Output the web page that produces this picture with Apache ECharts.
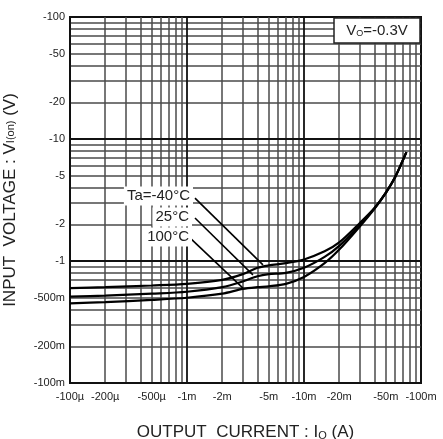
<!DOCTYPE html>
<html><head><meta charset="utf-8">
<script src="https://cdn.jsdelivr.net/npm/echarts@6/dist/echarts.min.js"></script>
<style>html,body{margin:0;padding:0;background:#fff}#c{width:443px;height:439px}</style>
</head><body><div id="c"></div>
<script>
// Output current magnitude (A); axis shows negative values
const currentA = [0.0001, 0.0002, 0.0005, 0.001, 0.002, 0.003, 0.004, 0.005, 0.007, 0.01, 0.015, 0.02, 0.03, 0.04, 0.05, 0.06, 0.075];
// Input voltage magnitude (V)
const vinM40 = [0.60, 0.61, 0.63, 0.65, 0.70, 0.78, 0.88, 0.92, 0.96, 1.03, 1.20, 1.42, 2.05, 2.72, 3.62, 4.85, 7.8];
const vin25  = [0.51, 0.52, 0.54, 0.56, 0.61, 0.68, 0.75, 0.78, 0.80, 0.88, 1.08, 1.33, 1.98, 2.70, 3.62, 4.85, 7.8];
const vin100 = [0.45, 0.46, 0.48, 0.50, 0.54, 0.59, 0.61, 0.62, 0.65, 0.74, 0.96, 1.24, 1.92, 2.68, 3.62, 4.85, 7.8];

const seriesNames = ['Ta=-40°C', '25°C', '100°C'];
// leader lines from labels to curves [I, V]
const leaderM40 = [[1.17e-3, 3.28], [4.46e-3, 0.93]];
const leader25  = [[1.17e-3, 2.25], [3.66e-3, 0.77]];
const leader100 = [[1.06e-3, 1.545], [3.01e-3, 0.60]];

const xTickValues = [1e-4, 2e-4, 5e-4, 1e-3, 2e-3, 5e-3, 1e-2, 2e-2, 5e-2, 1e-1];
const xTickLabels = ['-100µ', '-200µ', '-500µ', '-1m', '-2m', '-5m', '-10m', '-20m', '-50m', '-100m'];
const yTickValues = [0.1, 0.2, 0.5, 1, 2, 5, 10, 20, 50, 100];
const yTickLabels = ['-100m', '-200m', '-500m', '-1', '-2', '-5', '-10', '-20', '-50', '-100'];

const xMin = 1e-4, xMax = 0.1, yMin = 0.1, yMax = 100;
const xDecades = [1e-4, 1e-3, 1e-2];
const yDecades = [0.1, 1, 10];
const gridMult = [1, 2, 3, 4, 5, 6, 7, 8, 9];

function pickLabel(v, vals, labels) {
  let best = 0, bd = Infinity;
  vals.forEach((t, i) => { const d = Math.abs(Math.log10(v) - Math.log10(t)); if (d < bd) { bd = d; best = i; } });
  return labels[best];
}

const majorGrid = [], minorGrid = [];
xDecades.forEach(d => gridMult.forEach(m => (m === 1 ? majorGrid : minorGrid).push({ coords: [[d * m, yMin], [d * m, yMax]] })));
yDecades.forEach(d => gridMult.forEach(m => (m === 1 ? majorGrid : minorGrid).push({ coords: [[xMin, d * m], [xMax, d * m]] })));

function pairs(xs, ys) { return xs.map((x, i) => [x, ys[i]]); }

const FONT = 'Liberation Sans';
const curveStyle = { color: '#000', width: 2.2 };
const labelStyle = { fontSize: 15, fill: '#222', fontFamily: FONT, backgroundColor: '#fff', padding: [2, 3], align: 'right', verticalAlign: 'middle' };
const chart = echarts.init(document.getElementById('c'), null, { renderer: 'canvas' });
chart.setOption({
  animation: false,
  backgroundColor: '#fff',
  grid: { left: 70, right: 22, top: 17, bottom: 56, containLabel: false, outerBoundsMode: 'none', show: true, borderColor: '#111', borderWidth: 2, backgroundColor: '#fff' },
  xAxis: {
    type: 'log', logBase: 10, min: xMin, max: xMax,
    axisLine: { show: false }, axisTick: { show: false }, splitLine: { show: false },
    axisLabel: {
      customValues: xTickValues, margin: 8, fontSize: 11, color: '#222', fontFamily: FONT,
      formatter: v => pickLabel(v, xTickValues, xTickLabels)
    },
    name: 'OUTPUT  CURRENT : I{s|O} (A)', nameLocation: 'middle', nameGap: 40,
    nameTextStyle: { fontSize: 17, color: '#222', fontFamily: FONT, rich: { s: { fontSize: 11, verticalAlign: 'bottom', padding: [7, 0, 0, 0] } } }
  },
  yAxis: {
    type: 'log', logBase: 10, min: yMin, max: yMax,
    axisLine: { show: false }, axisTick: { show: false }, splitLine: { show: false },
    axisLabel: {
      customValues: yTickValues, margin: 5, fontSize: 11, color: '#222', fontFamily: FONT,
      formatter: v => pickLabel(v, yTickValues, yTickLabels)
    },
    name: 'INPUT  VOLTAGE : V{s|I(on)} (V)', nameLocation: 'middle', nameGap: 51, nameRotate: 90,
    nameTextStyle: { fontSize: 17, color: '#222', fontFamily: FONT, rich: { s: { fontSize: 11 } } }
  },
  series: [
    { type: 'lines', coordinateSystem: 'cartesian2d', data: minorGrid, silent: true, z: 1, lineStyle: { color: '#4a4a4a', width: 1.5, opacity: 1 } },
    { type: 'lines', coordinateSystem: 'cartesian2d', data: majorGrid, silent: true, z: 2, lineStyle: { color: '#111', width: 1.8, opacity: 1 } },
    { name: seriesNames[0], type: 'line', data: pairs(currentA, vinM40), smooth: 0.3, symbol: 'none', lineStyle: curveStyle, z: 5 },
    { name: seriesNames[1], type: 'line', data: pairs(currentA, vin25), smooth: 0.3, symbol: 'none', lineStyle: curveStyle, z: 5 },
    { name: seriesNames[2], type: 'line', data: pairs(currentA, vin100), smooth: 0.3, symbol: 'none', lineStyle: curveStyle, z: 5 },
    { type: 'line', data: leaderM40, symbol: 'none', lineStyle: { color: '#000', width: 1.6 }, z: 5 },
    { type: 'line', data: leader25, symbol: 'none', lineStyle: { color: '#000', width: 1.6 }, z: 5 },
    { type: 'line', data: leader100, symbol: 'none', lineStyle: { color: '#000', width: 1.6 }, z: 5 }
  ],
  graphic: [
    { type: 'rect', shape: { x: 334, y: 18, width: 86, height: 25 }, style: { fill: '#fff', stroke: '#222', lineWidth: 1.5 }, z: 10 },
    { type: 'text', x: 377, y: 31, z: 11, style: { text: 'V{s|O}=-0.3V', align: 'center', verticalAlign: 'middle', fontSize: 15, fill: '#222', fontFamily: FONT, rich: { s: { fontSize: 9, padding: [6, 0, 0, 0] } } } },
    { type: 'text', x: 193, y: 196, z: 11, style: Object.assign({ text: seriesNames[0] }, labelStyle) },
    { type: 'text', x: 192, y: 217, z: 11, style: Object.assign({ text: seriesNames[1] }, labelStyle) },
    { type: 'text', x: 192, y: 237, z: 11, style: Object.assign({ text: seriesNames[2] }, labelStyle) }
  ]
});
</script></body></html>
